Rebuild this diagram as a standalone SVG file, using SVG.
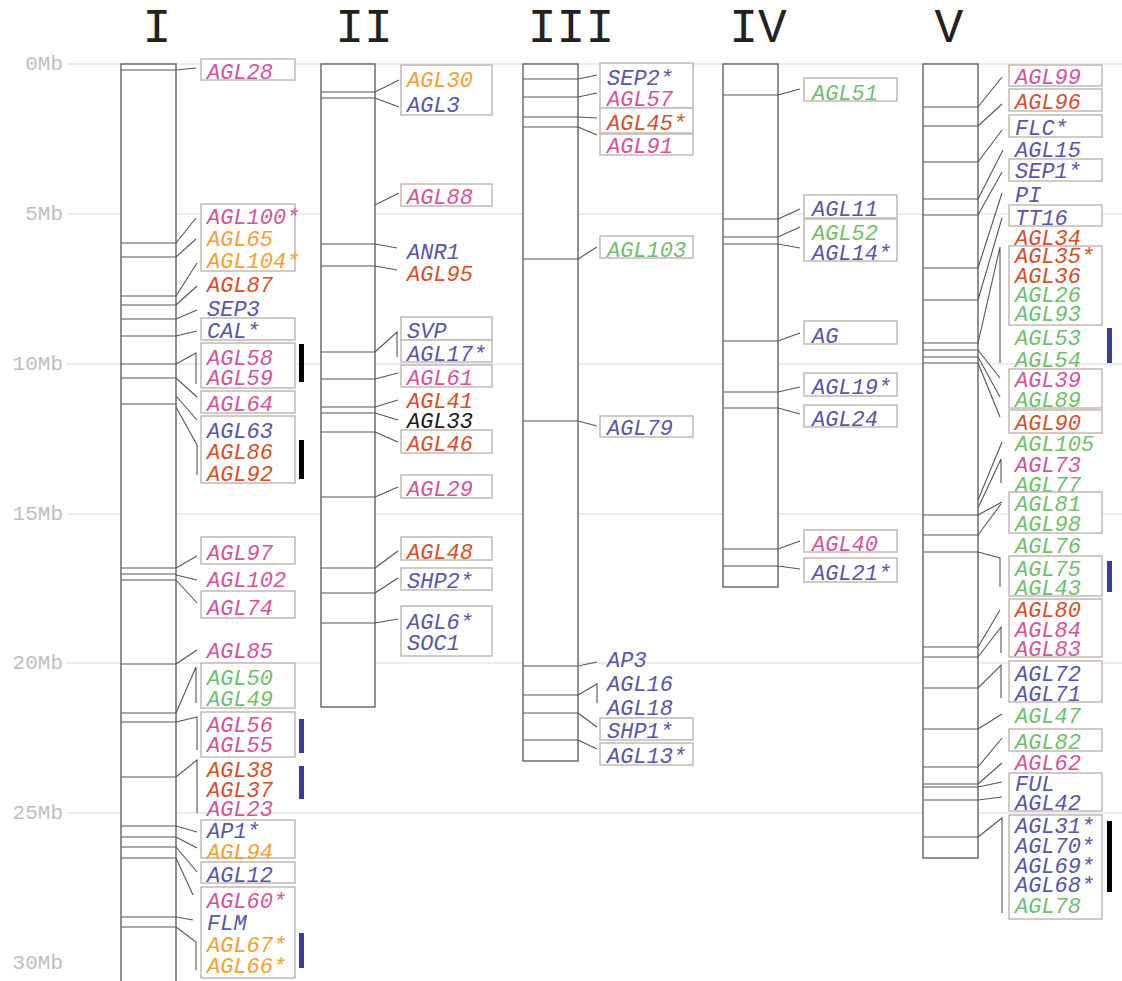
<svg xmlns="http://www.w3.org/2000/svg" width="1122" height="981" viewBox="0 0 1122 981">
<style>
.grid{stroke:#ddd8d6;stroke-width:1.2}
.mb{font-family:"Liberation Mono",monospace;font-size:21px;fill:#c4bcba;text-anchor:end}
.title{font-family:"Liberation Mono",monospace;font-size:48px;fill:#222;text-anchor:middle}
.chr{fill:#fff;stroke:#555;stroke-width:1.3}
.tick{stroke:#555;stroke-width:1.2}
.conn path{fill:none;stroke:#555;stroke-width:1.1}
.box{fill:#fff;stroke:#c2b8b4;stroke-width:1.5}
text.l{font-family:"Liberation Mono",monospace;font-size:22px;font-style:italic}
.p{fill:#d2559a}.o{fill:#f2a035}.r{fill:#d4502a}.b{fill:#5a55a8}.g{fill:#6fbf6c}.k{fill:#1a1a1a}
.bk{fill:#000}.bl{fill:#3a3aa0}
</style>
<g id="grid">
<line class="grid" x1="67" y1="64" x2="1122" y2="64"/>
<line class="grid" x1="67" y1="214" x2="1122" y2="214"/>
<line class="grid" x1="67" y1="364" x2="1122" y2="364"/>
<line class="grid" x1="67" y1="514" x2="1122" y2="514"/>
<line class="grid" x1="67" y1="663" x2="1122" y2="663"/>
<line class="grid" x1="67" y1="813" x2="1122" y2="813"/>
<text class="mb" x="63" y="70">0Mb</text>
<text class="mb" x="63" y="220">5Mb</text>
<text class="mb" x="63" y="370">10Mb</text>
<text class="mb" x="63" y="520">15Mb</text>
<text class="mb" x="63" y="669">20Mb</text>
<text class="mb" x="63" y="819">25Mb</text>
<text class="mb" x="63" y="969">30Mb</text>
</g>
<g id="titles">
<text class="title" x="157" y="42">I</text>
<text class="title" x="364" y="42">II</text>
<text class="title" x="571" y="42">III</text>
<text class="title" x="758" y="42">IV</text>
<text class="title" x="949" y="42">V</text>
</g>
<g id="chrI">
<rect class="chr" x="121" y="64" width="55" height="930"/>
<path class="tick" d="M121,70H176M121,243H176M121,257H176M121,296H176M121,305H176M121,319H176M121,336H176M121,364H176M121,378H176M121,404H176M121,568H176M121,574H176M121,580H176M121,664H176M121,713H176M121,722H176M121,777H176M121,826H176M121,837H176M121,847H176M121,858H176M121,917H176M121,927H176"/>
</g>
<g id="chrII">
<rect class="chr" x="321" y="64" width="54" height="643"/>
<path class="tick" d="M321,92H375M321,98H375M321,244H375M321,266H375M321,352H375M321,379H375M321,407H375M321,413H375M321,432H375M321,497H375M321,568H375M321,593H375M321,623H375"/>
</g>
<g id="chrIII">
<rect class="chr" x="523" y="64" width="55" height="697"/>
<path class="tick" d="M523,79H578M523,97H578M523,117H578M523,127H578M523,259H578M523,421H578M523,666H578M523,695H578M523,713H578M523,740H578"/>
</g>
<g id="chrIV">
<rect class="chr" x="723" y="64" width="55" height="523"/>
<path class="tick" d="M723,95H778M723,219H778M723,237H778M723,244H778M723,341H778M723,392H778M723,408H778M723,549H778M723,566H778"/>
</g>
<g id="chrV">
<rect class="chr" x="923" y="64" width="55" height="794"/>
<path class="tick" d="M923,107H978M923,126H978M923,162H978M923,199H978M923,215H978M923,268H978M923,300H978M923,343H978M923,350H978M923,357H978M923,363H978M923,515H978M923,535H978M923,552H978M923,647H978M923,657H978M923,688H978M923,729H978M923,767H978M923,784H978M923,787H978M923,800H978M923,837H978"/>
</g>
<g id="connectors" class="conn">
<path d="M176,70L196,68M176,243L196,218M176,257L196,239M176,296L197,263M176,305L197,286M176,319L197,310M176,336L197,331M176,364L196,353L196,384M176,378L197,397M176,396L197,420M176,407L197,445L197,475M176,568L197,556M176,575L197,580M176,580L197,603M176,664L197,650M176,713L196,667L196,703M176,722L197,717L197,750M176,777L197,760L197,813M176,826L197,832M176,837L197,848M176,847L197,872M176,858L193,895M176,917L193,920M176,927L196,942L196,970"/>
<path d="M375,92L399,80M375,98L399,107M375,205L399,193M375,244L397,248M375,266L397,270M375,352L397,332L397,357M375,379L398,373M375,407L398,400M375,413L398,420M375,432L398,442M375,497L398,487M375,568L398,551M375,593L398,578M375,623L398,619"/>
<path d="M578,79L597,75M578,97L597,93M578,117L597,118M578,127L597,135M578,259L597,247M578,421L597,426M578,666L597,662M578,695L597,684L597,703M578,713L597,727M578,740L597,749"/>
<path d="M778,95L800,89M778,219L800,209M778,237L800,227M778,244L800,248M778,341L800,333M778,392L800,387M778,408L800,414M778,549L800,541M778,566L800,569"/>
<path d="M978,107L1002,77M978,126L1002,104M978,162L1002,130M978,199L1003,150M978,215L1002,172M978,268L1002,193M978,300L1002,218M978,343L1000,247L1000,363M978,350L1000,378M978,357L1000,397M978,363L1000,417M978,500L1002,442M978,508L1001,459L1001,483M978,515L1002,502M978,535L1001,504M978,552L1000,558L1000,587M978,647L1000,610M978,657L1001,627L1001,653M978,688L1001,665L1001,698M978,729L1002,714M978,767L1002,738M978,784L1002,763M978,787L1002,782M978,800L1002,797M978,837L1002,818L1002,913"/>
</g>
<g id="n-AGL28"><rect class="box" x="201" y="59" width="94" height="21"/><text class="l p" x="207" y="79">AGL28</text></g>
<g id="n-AGL100"><rect class="box" x="201" y="204" width="94" height="67"/><text class="l p" x="207" y="224">AGL100*</text><text class="l o" x="207" y="246">AGL65</text><text class="l o" x="207" y="268">AGL104*</text></g>
<g id="n-AGL87"><text class="l r" x="207" y="292">AGL87</text></g>
<g id="n-SEP3"><text class="l b" x="207" y="316">SEP3</text></g>
<g id="n-CAL"><rect class="box" x="201" y="318" width="94" height="22"/><text class="l b" x="207" y="338">CAL*</text></g>
<g id="n-AGL58"><rect class="box" x="201" y="343" width="94" height="45"/><text class="l p" x="207" y="365">AGL58</text><text class="l p" x="207" y="385">AGL59</text><rect class="bk" x="299" y="344" width="5" height="38"/></g>
<g id="n-AGL64"><rect class="box" x="201" y="391" width="94" height="22"/><text class="l p" x="207" y="411">AGL64</text></g>
<g id="n-AGL63"><rect class="box" x="201" y="416" width="94" height="67"/><text class="l b" x="207" y="438">AGL63</text><text class="l r" x="207" y="459">AGL86</text><text class="l r" x="207" y="481">AGL92</text><rect class="bk" x="299" y="440" width="5" height="39"/></g>
<g id="n-AGL97"><rect class="box" x="201" y="537" width="94" height="27"/><text class="l p" x="207" y="560">AGL97</text></g>
<g id="n-AGL102"><text class="l p" x="207" y="587">AGL102</text></g>
<g id="n-AGL74"><rect class="box" x="201" y="591" width="94" height="27"/><text class="l p" x="207" y="615">AGL74</text></g>
<g id="n-AGL85"><text class="l p" x="207" y="658">AGL85</text></g>
<g id="n-AGL50"><rect class="box" x="201" y="663" width="94" height="45"/><text class="l g" x="207" y="685">AGL50</text><text class="l g" x="207" y="706">AGL49</text></g>
<g id="n-AGL56"><rect class="box" x="201" y="712" width="94" height="45"/><text class="l p" x="207" y="732">AGL56</text><text class="l p" x="207" y="752">AGL55</text><rect class="bl" x="299" y="719" width="5" height="34"/></g>
<g id="n-AGL38"><text class="l r" x="207" y="777">AGL38</text><text class="l r" x="207" y="797">AGL37</text><text class="l p" x="207" y="816">AGL23</text><rect class="bl" x="299" y="766" width="5" height="33"/></g>
<g id="n-AP1"><rect class="box" x="201" y="820" width="94" height="38"/><text class="l b" x="207" y="838">AP1*</text><text class="l o" x="207" y="859">AGL94</text></g>
<g id="n-AGL12"><rect class="box" x="201" y="862" width="94" height="21"/><text class="l b" x="207" y="882">AGL12</text></g>
<g id="n-AGL60"><rect class="box" x="201" y="887" width="94" height="91"/><text class="l p" x="207" y="908">AGL60*</text><text class="l b" x="207" y="930">FLM</text><text class="l o" x="207" y="952">AGL67*</text><text class="l o" x="207" y="973">AGL66*</text><rect class="bl" x="299" y="933" width="5" height="35"/></g>
<g id="n-AGL30"><rect class="box" x="401" y="65" width="91" height="50"/><text class="l o" x="407" y="87">AGL30</text><text class="l b" x="407" y="112">AGL3</text></g>
<g id="n-AGL88"><rect class="box" x="401" y="184" width="91" height="22"/><text class="l p" x="407" y="204">AGL88</text></g>
<g id="n-ANR1"><text class="l b" x="407" y="259">ANR1</text></g>
<g id="n-AGL95"><text class="l r" x="407" y="281">AGL95</text></g>
<g id="n-SVP"><rect class="box" x="401" y="317" width="91" height="23"/><text class="l b" x="407" y="338">SVP</text></g>
<g id="n-AGL17"><rect class="box" x="401" y="340" width="91" height="22"/><text class="l b" x="407" y="361">AGL17*</text></g>
<g id="n-AGL61"><rect class="box" x="401" y="365" width="91" height="22"/><text class="l p" x="407" y="385">AGL61</text></g>
<g id="n-AGL41"><text class="l r" x="407" y="408">AGL41</text></g>
<g id="n-AGL33"><text class="l k" x="407" y="428">AGL33</text></g>
<g id="n-AGL46"><rect class="box" x="401" y="430" width="91" height="23"/><text class="l r" x="407" y="451">AGL46</text></g>
<g id="n-AGL29"><rect class="box" x="401" y="475" width="91" height="23"/><text class="l p" x="407" y="496">AGL29</text></g>
<g id="n-AGL48"><rect class="box" x="401" y="537" width="91" height="23"/><text class="l r" x="407" y="559">AGL48</text></g>
<g id="n-SHP2"><rect class="box" x="401" y="568" width="91" height="22"/><text class="l b" x="407" y="588">SHP2*</text></g>
<g id="n-AGL6"><rect class="box" x="401" y="606" width="91" height="50"/><text class="l b" x="407" y="629">AGL6*</text><text class="l b" x="407" y="650">SOC1</text></g>
<g id="n-SEP2"><rect class="box" x="600" y="63" width="93" height="45"/><text class="l b" x="607" y="85">SEP2*</text><text class="l p" x="607" y="106">AGL57</text></g>
<g id="n-AGL45"><rect class="box" x="600" y="108" width="93" height="25"/><text class="l r" x="607" y="130">AGL45*</text></g>
<g id="n-AGL91"><rect class="box" x="600" y="134" width="93" height="21"/><text class="l p" x="607" y="153">AGL91</text></g>
<g id="n-AGL103"><rect class="box" x="600" y="236" width="93" height="22"/><text class="l g" x="607" y="257">AGL103</text></g>
<g id="n-AGL79"><rect class="box" x="600" y="416" width="93" height="21"/><text class="l b" x="607" y="435">AGL79</text></g>
<g id="n-AP3"><text class="l b" x="607" y="667">AP3</text></g>
<g id="n-AGL16"><text class="l b" x="607" y="691">AGL16</text><text class="l b" x="607" y="715">AGL18</text></g>
<g id="n-SHP1"><rect class="box" x="600" y="718" width="93" height="22"/><text class="l b" x="607" y="738">SHP1*</text></g>
<g id="n-AGL13"><rect class="box" x="600" y="743" width="93" height="22"/><text class="l b" x="607" y="763">AGL13*</text></g>
<g id="n-AGL51"><rect class="box" x="804" y="78" width="93" height="23"/><text class="l g" x="812" y="100">AGL51</text></g>
<g id="n-AGL11"><rect class="box" x="804" y="195" width="93" height="23"/><text class="l b" x="812" y="216">AGL11</text></g>
<g id="n-AGL52"><rect class="box" x="804" y="219" width="93" height="42"/><text class="l g" x="812" y="240">AGL52</text><text class="l b" x="812" y="260">AGL14*</text></g>
<g id="n-AG"><rect class="box" x="804" y="321" width="93" height="23"/><text class="l b" x="812" y="343">AG</text></g>
<g id="n-AGL19"><rect class="box" x="804" y="373" width="93" height="23"/><text class="l b" x="812" y="394">AGL19*</text></g>
<g id="n-AGL24"><rect class="box" x="804" y="405" width="93" height="22"/><text class="l b" x="812" y="426">AGL24</text></g>
<g id="n-AGL40"><rect class="box" x="804" y="530" width="93" height="22"/><text class="l p" x="812" y="551">AGL40</text></g>
<g id="n-AGL21"><rect class="box" x="804" y="558" width="93" height="24"/><text class="l b" x="812" y="580">AGL21*</text></g>
<g id="n-AGL99"><rect class="box" x="1009" y="65" width="93" height="21"/><text class="l p" x="1015" y="84">AGL99</text></g>
<g id="n-AGL96"><rect class="box" x="1009" y="89" width="93" height="22"/><text class="l r" x="1015" y="109">AGL96</text></g>
<g id="n-FLC"><rect class="box" x="1009" y="115" width="93" height="22"/><text class="l b" x="1015" y="135">FLC*</text></g>
<g id="n-AGL15"><text class="l b" x="1015" y="157">AGL15</text></g>
<g id="n-SEP1"><rect class="box" x="1009" y="159" width="93" height="22"/><text class="l b" x="1015" y="178">SEP1*</text></g>
<g id="n-PI"><text class="l b" x="1015" y="202">PI</text></g>
<g id="n-TT16"><rect class="box" x="1009" y="205" width="93" height="21"/><text class="l b" x="1015" y="225">TT16</text></g>
<g id="n-AGL34"><text class="l r" x="1015" y="245">AGL34</text></g>
<g id="n-AGL35"><rect class="box" x="1009" y="246" width="93" height="79"/><text class="l r" x="1015" y="263">AGL35*</text><text class="l r" x="1015" y="283">AGL36</text><text class="l g" x="1015" y="302">AGL26</text><text class="l g" x="1015" y="321">AGL93</text></g>
<g id="n-AGL53"><text class="l g" x="1015" y="345">AGL53</text><text class="l g" x="1015" y="367">AGL54</text><rect class="bl" x="1107" y="328" width="5" height="35"/></g>
<g id="n-AGL39"><rect class="box" x="1009" y="369" width="93" height="39"/><text class="l p" x="1015" y="387">AGL39</text><text class="l g" x="1015" y="407">AGL89</text></g>
<g id="n-AGL90"><rect class="box" x="1009" y="410" width="93" height="23"/><text class="l r" x="1015" y="430">AGL90</text></g>
<g id="n-AGL105"><text class="l g" x="1015" y="451">AGL105</text><text class="l p" x="1015" y="472">AGL73</text><text class="l g" x="1015" y="492">AGL77</text></g>
<g id="n-AGL81"><rect class="box" x="1009" y="492" width="93" height="41"/><text class="l g" x="1015" y="511">AGL81</text><text class="l g" x="1015" y="531">AGL98</text></g>
<g id="n-AGL76"><text class="l g" x="1015" y="553">AGL76</text></g>
<g id="n-AGL75"><rect class="box" x="1009" y="556" width="93" height="40"/><text class="l g" x="1015" y="576">AGL75</text><text class="l g" x="1015" y="595">AGL43</text><rect class="bl" x="1107" y="561" width="5" height="31"/></g>
<g id="n-AGL80"><rect class="box" x="1009" y="599" width="93" height="58"/><text class="l r" x="1015" y="617">AGL80</text><text class="l p" x="1015" y="637">AGL84</text><text class="l p" x="1015" y="656">AGL83</text></g>
<g id="n-AGL72"><rect class="box" x="1009" y="661" width="93" height="41"/><text class="l b" x="1015" y="681">AGL72</text><text class="l b" x="1015" y="701">AGL71</text></g>
<g id="n-AGL47"><text class="l g" x="1015" y="723">AGL47</text></g>
<g id="n-AGL82"><rect class="box" x="1009" y="729" width="93" height="22"/><text class="l g" x="1015" y="749">AGL82</text></g>
<g id="n-AGL62"><text class="l p" x="1015" y="770">AGL62</text></g>
<g id="n-FUL"><rect class="box" x="1009" y="773" width="93" height="38"/><text class="l b" x="1015" y="791">FUL</text><text class="l b" x="1015" y="810">AGL42</text></g>
<g id="n-AGL31"><rect class="box" x="1009" y="815" width="93" height="104"/><text class="l b" x="1015" y="833">AGL31*</text><text class="l b" x="1015" y="853">AGL70*</text><text class="l b" x="1015" y="873">AGL69*</text><text class="l b" x="1015" y="892">AGL68*</text><text class="l g" x="1015" y="913">AGL78</text><rect class="bk" x="1107" y="821" width="5" height="71"/></g>
</svg>
